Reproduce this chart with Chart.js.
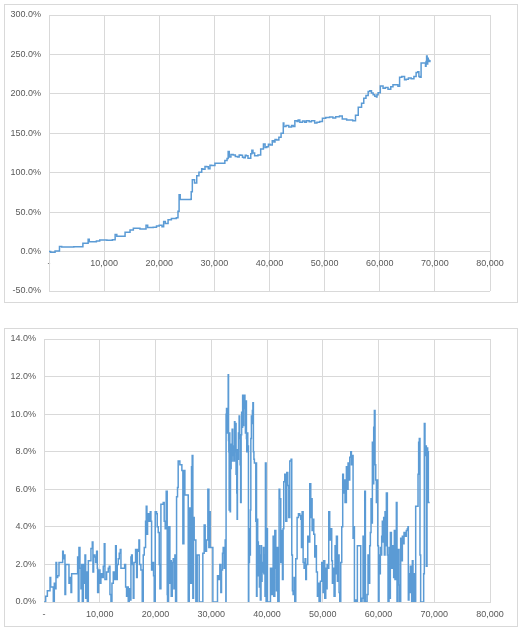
<!DOCTYPE html>
<html>
<head>
<meta charset="utf-8">
<script src="https://cdn.jsdelivr.net/npm/chart.js@4.4.1/dist/chart.umd.min.js"></script>
<style>
  html, body { margin: 0; padding: 0; background: #fff; }
  .box { position: absolute; left: 4px; width: 512px; height: 297px; border: 1px solid #d9d9d9; background: #fff; }
  #boxGrowth { top: 4px; }
  #boxDrawdown { top: 328px; }
  canvas { display: block; }
</style>
</head>
<body>
<div class="box" id="boxGrowth"><canvas id="chartGrowth" width="512" height="297"></canvas></div>
<div class="box" id="boxDrawdown"><canvas id="chartDrawdown" width="512" height="297"></canvas></div>

<script>
// ============================================================
// Cumulative return + drawdown, x in thousands of trades, y in %
// ============================================================

// x-axis ticks (thousands)
const xTicks = [0, 10, 20, 30, 40, 50, 60, 70, 80];
const growthTicks = [-50, 0, 50, 100, 150, 200, 250, 300];
const drawdownTicks = [0, 2, 4, 6, 8, 10, 12, 14];

// Top series: cumulative return (%), [x (thousands), value]
const growthPts = [
  [0,0],[0.3,-0.8],[1.1,0.8],[1.9,6.5],[2.3,5.8],[4.5,6.2],[6.1,6],[6.15,10.5],[7.1,15.5],[7.3,12.5],
  [8.6,13.5],[9.2,14.8],[10.5,14.5],[11.5,15],[12,21.5],[12.3,19.5],[13.8,24.5],[14.7,27.5],[15.3,29.5],
  [16.5,28.5],[17.6,33.5],[17.9,30.5],[18.9,31],[19.5,32.5],[20,33.5],[20.5,31.5],[20.8,38],[21.1,35.5],
  [21.6,40.5],[22.2,42],[23.1,43],[23.4,51],[23.6,72],[23.8,66],[25.7,66.5],[25.8,76],[26,91],[26.4,87],
  [26.8,96],[27.2,100.5],[27.7,105],[27.9,104.5],[28.3,108],[28.6,107.5],[28.9,105],[29.2,109.5],[29.5,109],
  [30.1,112],[31.6,112],[31.9,115.5],[32.3,118],[32.5,127],[32.7,120],[33.0,123],[33.4,122.5],[33.8,120.5],
  [34.2,120],[34.5,122.5],[34.8,122],[35.1,119.5],[35.3,119],[35.6,122],[35.8,121.5],[36.1,118.5],[36.6,124],
  [36.8,128.5],[37.0,125],[37.3,121.5],[37.9,122.5],[38.4,130],[38.9,136.5],[39.2,132],[39.5,133],[39.8,136],
  [40.1,135],[40.5,140.5],[40.8,139],[41.0,142],[41.3,141.5],[41.7,145],[42.1,150],[42.5,163],[42.6,158.5],
  [43.0,160],[43.5,158],[44.0,160],[44.3,158.5],[44.6,166],[45.0,165],[45.2,167],[45.5,164],[46.0,165.5],
  [46.4,164],[46.7,166],[47.2,164.5],[47.6,166],[48.2,163],[48.6,164],[49.1,165],[49.6,169],[50.2,170],
  [50.9,170.5],[51.5,169.5],[52.0,171],[52.7,172],[53.2,168],[54.0,167],[55.1,166],[55.6,173],[56.1,183],
  [56.7,188],[57.1,194.5],[57.5,198],[57.9,203],[58.2,204],[58.5,201],[58.8,199],[59.1,197],[59.4,196],
  [59.5,199],[59.7,201.5],[60.1,210],[60.6,207],[61.0,208],[61.5,206],[62.0,209],[62.4,211.5],[63.3,209.5],
  [63.6,221],[64.0,222],[64.5,218],[64.8,218.5],[65.2,220],[65.7,219],[66.2,222],[66.6,227],[66.9,228],
  [67.1,222],[67.3,221],[67.5,239],[68.1,239],[68.3,235],[68.4,241],[68.5,248],[68.6,238],[68.7,245],
  [68.8,243],[68.9,241],[69.1,243]
];

// Bottom series: drawdown (%), [x (thousands), value]
const drawdownPts = [
  [0,0],[0.3,0.3],[0.6,0.6],[1.08,1.3],[1.2,0.8],[1.67,0],[1.85,1.0],[2.09,0.7],[2.15,2.1],[2.27,1.3],
  [2.45,1.4],[2.69,2.1],[3.29,2.1],[3.35,2.7],[3.46,2.3],[3.64,2.5],[3.76,0.4],[3.88,2.0],[4.36,2.0],
  [4.48,1.0],[4.66,1.3],[4.84,0.5],[4.96,1.5],[5.85,1.5],[6.03,2.4],[6.15,0],[6.27,2.9],[6.45,1.8],
  [6.63,0.7],[6.75,2.0],[6.87,0],[7.05,2.0],[7.23,1.0],[7.35,2.5],[7.47,0.2],[7.59,1.6],[7.77,0],
  [7.95,2.2],[8.24,2.2],[8.42,2.85],[8.66,3.2],[8.78,1.6],[8.9,2.5],[9.14,2.4],[9.26,2.1],[9.44,2.7],
  [9.56,1.8],[9.62,0.5],[9.8,1.7],[10.04,1.0],[10.21,1.5],[10.45,1.3],[10.63,1.9],[10.81,3.1],[10.93,1.2],
  [11.23,1.6],[11.53,1.8],[11.71,1.9],[11.83,0.4],[12.01,0],[12.19,1.0],[12.43,1.6],[12.6,1.2],[12.84,3.0],
  [12.96,1.2],[13.14,2.0],[13.32,2.3],[13.5,2.6],[13.68,2.8],[13.8,1.8],[14.34,1.8],[14.46,2.0],[14.64,0.8],
  [14.81,0.3],[14.93,0.8],[15.11,0],[15.29,0.7],[15.47,0.1],[15.59,2.4],[15.71,2.5],[15.83,2.0],[16.01,0.2],
  [16.13,2.1],[16.43,2.8],[16.61,1.3],[16.73,2.8],[16.91,2.7],[17.03,3.3],[17.14,2.0],[17.38,1.7],[17.62,0],
  [17.8,2.5],[17.98,2.9],[18.22,4.3],[18.34,5.1],[18.46,3.6],[18.58,4.7],[18.82,4.3],[19.06,4.8],[19.18,4.3],
  [19.3,1.7],[19.41,2.1],[19.65,1.4],[19.77,0],[19.95,4.8],[20.19,4.7],[20.31,4.0],[20.49,3.7],[20.67,2.0],
  [20.79,0.7],[20.97,5.2],[21.39,5.3],[21.56,4.3],[21.74,3.9],[21.92,5.9],[22.1,0.4],[22.16,0],[22.34,4.0],
  [22.58,1.0],[22.7,2.2],[22.82,0.3],[23.0,2.1],[23.18,2.3],[23.3,0.7],[23.48,2.5],[23.6,0],[23.78,5.6],
  [23.95,6.1],[24.07,7.5],[24.37,7.3],[24.73,7.0],[24.91,3.1],[25.09,7.0],[25.27,5.7],[25.69,5.7],[25.87,0],
  [26.05,5.0],[26.28,1.0],[26.46,7.2],[26.58,7.8],[26.7,0.2],[26.82,4.5],[26.94,3.3],[27.24,0],[27.48,2.5],
  [27.84,0],[28.49,2.6],[28.73,4.1],[28.91,2.7],[29.15,3.3],[29.39,6.0],[29.57,2.9],[29.69,4.8],[29.81,2.9],
  [30.17,2.9],[30.29,0],[30.94,0],[31.12,1.4],[31.36,1.2],[31.54,2.0],[31.72,0.5],[31.84,1.7],[32.02,2.6],
  [32.14,2.9],[32.32,1.8],[32.5,3.3],[32.62,0],[32.66,10.0],[32.74,10.3],[32.86,9.0],[32.95,10.2],[33.04,12.1],
  [33.1,8.6],[33.15,8.0],[33.21,4.9],[33.27,9.0],[33.33,8.1],[33.39,4.8],[33.45,8.4],[33.51,7.1],[33.57,7.5],
  [33.75,9.2],[33.85,7.8],[33.93,8.3],[34.05,7.5],[34.17,9.6],[34.25,8.0],[34.35,9.5],[34.45,6.8],[34.52,8.1],
  [34.58,5.8],[34.64,4.4],[34.7,8.1],[34.76,7.6],[34.88,9.0],[35.0,9.9],[35.09,8.7],[35.18,7.3],[35.27,5.3],
  [35.36,8.9],[35.45,10.1],[35.54,9.3],[35.63,11.0],[35.71,10.0],[35.77,9.4],[35.83,10.8],[35.95,11.0],
  [36.04,10.3],[36.13,9.0],[36.22,10.7],[36.31,8.7],[36.37,8.0],[36.43,9.0],[36.55,8.3],[36.67,0],[36.73,3.9],
  [36.79,2.1],[36.85,3.7],[36.9,2.5],[37.02,4.9],[37.1,8.7],[37.2,9.9],[37.3,9.5],[37.38,10.2],[37.47,10.6],
  [37.56,8.0],[37.65,7.6],[37.74,7.4],[37.99,4.3],[38.04,7.4],[38.12,0.3],[38.21,4.4],[38.33,3.2],[38.45,1.4],
  [38.54,3.0],[38.63,0.8],[38.72,2.5],[38.81,0.1],[38.93,3.0],[39.02,1.1],[39.11,2.1],[39.22,1.6],[39.35,2.9],
  [39.44,1.5],[39.52,2.5],[39.64,0.3],[39.72,7.4],[39.84,0],[39.96,3.9],[40.08,0],[40.38,0],
  [40.62,1.8],[40.86,0.4],[41.1,3.5],[41.22,0.3],[41.4,3.8],[41.58,1.8],[41.7,0.6],[41.82,2.9],[41.94,0],
  [42.17,6.0],[42.29,5.5],[42.47,2.1],[42.59,3.8],[42.77,1.2],[42.89,3.9],[43.01,6.4],[43.19,6.8],[43.37,4.3],
  [43.55,6.9],[43.73,6.2],[43.91,4.5],[44.09,7.5],[44.32,7.6],[44.44,2.5],[44.56,0.6],[44.68,0.4],[44.86,1.3],
  [44.98,0],[45.16,2.3],[45.4,4.5],[45.64,4.7],[45.88,4.6],[46.06,4.4],[46.18,2.9],[46.3,4.8],[46.48,2.1],
  [46.65,1.8],[46.83,2.3],[46.95,1.2],[47.07,2.0],[47.31,3.5],[47.55,3.2],[47.67,6.3],[47.85,4.5],[47.97,5.5],
  [48.09,3.8],[48.27,4.4],[48.39,3.6],[48.57,2.4],[48.75,3.0],[48.86,1.6],[49.04,0.3],[49.16,1.0],[49.34,0],
  [49.58,1.1],[49.82,2.1],[50.06,0.5],[50.18,2.2],[50.36,0.2],[50.54,1.8],[50.66,0.7],[50.78,2.0],[50.96,1.8],
  [51.08,4.8],[51.25,3.3],[51.43,3.9],[51.61,2.2],[51.73,1.0],[51.91,1.8],[52.03,0.3],[52.21,3.0],[52.33,1.5],
  [52.45,3.5],[52.63,1.1],[52.81,2.5],[52.93,0.5],[53.05,0],[53.23,2.1],[53.41,4.0],[53.58,6.8],[53.7,5.8],
  [53.82,6.5],[54.0,5.3],[54.24,7.2],[54.42,6.0],[54.54,7.4],[54.72,6.5],[54.84,7.7],[55.02,8.0],[55.14,7.3],
  [55.32,7.8],[55.44,3.4],[55.56,4.0],[55.68,0],[55.8,0.1],[56.03,0],[56.21,3.0],[56.63,3.0],[56.81,0],
  [57.05,0.2],[57.23,3.5],[57.41,0],[57.53,5.9],[57.65,0],[57.95,0.4],[58.12,2.5],[58.3,1.0],[58.42,3.0],
  [58.54,3.7],[58.66,5.5],[58.78,4.2],[58.9,8.5],[59.02,6.3],[59.14,9.3],[59.26,10.2],[59.38,7.3],[59.5,6.5],
  [59.62,5.3],[59.74,6.5],[59.86,3.0],[59.98,0],[60.1,2.5],[60.22,1.5],[60.33,2.9],[60.45,2.5],[60.57,3.5],
  [60.69,4.3],[60.81,3.2],[60.93,4.5],[61.05,2.5],[61.17,4.8],[61.29,3.0],[61.41,5.8],[61.59,2.5],[61.71,0],
  [61.89,2.9],[62.01,0.2],[62.13,3.7],[62.31,1.8],[62.49,3.0],[62.6,2.0],[62.72,1.3],[62.84,3.8],[62.96,1.2],
  [63.08,2.5],[63.2,5.3],[63.32,0],[63.5,2.8],[63.68,0.9],[63.8,0],[63.98,3.4],[64.1,2.2],[64.28,3.5],
  [64.4,3.1],[64.58,3.7],[64.75,3.5],[64.99,3.8],[65.17,3.9],[65.29,4.0],[65.35,0.1],[65.47,1.5],[65.59,0.5],
  [65.71,1.9],[65.83,1.0],[65.95,0],[66.07,2.2],[66.19,0],[66.37,1.5],[66.49,0],[66.67,5.1],[66.97,5.1],
  [67.09,6.8],[67.2,8.5],[67.32,8.7],[67.44,2.5],[67.56,0],[67.98,0],[68.1,1.5],[68.22,9.5],[68.34,7.8],
  [68.46,8.3],[68.58,1.9],[68.7,8.2],[68.82,8.0],[68.94,5.3],[69.18,5.3]
];

// ── shared styling (Excel look) ─────────────────────────────
Chart.defaults.font.family = '"Liberation Sans", Arial, sans-serif';
Chart.defaults.font.size = 9;
Chart.defaults.color = '#595959';

const GRID = '#d9d9d9';
const LINE = '#5b9bd5';

const fmtX = v => v === 0 ? '-' : (v * 1000).toLocaleString('en-US');
const fmtPct = v => Number(v).toFixed(1) + '%';
const toXY = pts => pts.map(p => ({ x: p[0], y: p[1] }));
const fixedTicks = list => scale => { scale.ticks = list.map(v => ({ value: v })); };

function lineDataset(pts) {
  return {
    data: toXY(pts),
    borderColor: LINE,
    borderWidth: 1.5,
    pointRadius: 0,
    stepped: true,
    tension: 0,
    fill: false
  };
}

function xScale(extra) {
  return Object.assign({
    type: 'linear',
    min: xTicks[0], max: xTicks[xTicks.length - 1],
    afterBuildTicks: fixedTicks(xTicks),
    grid: { color: GRID, drawTicks: false },
    border: { color: GRID },
    ticks: { callback: fmtX, padding: 7, maxRotation: 0, autoSkip: false }
  }, extra);
}

function yScale(ticks, width) {
  return {
    type: 'linear',
    min: ticks[0], max: ticks[ticks.length - 1],
    afterBuildTicks: fixedTicks(ticks),
    // fixed axis width, and no label overhang so layout padding decides the plot box
    afterFit: s => { s.width = width; s.paddingTop = 0; s.paddingBottom = 0; },
    grid: { color: GRID, drawTicks: false },
    border: { color: GRID },
    ticks: { callback: fmtPct, padding: 8 }
  };
}

const commonOpts = {
  responsive: false,
  animation: false,
  events: [],
  plugins: { legend: { display: false }, tooltip: { enabled: false } }
};

// ── Top: cumulative return ──────────────────────────────────
new Chart(document.getElementById('chartGrowth'), {
  type: 'line',
  data: { datasets: [lineDataset(growthPts)] },
  options: Object.assign({}, commonOpts, {
    layout: { padding: { top: 10, right: 27, bottom: 11, left: 0 } },
    scales: {
      x: xScale({ position: { y: 0 } }),
      y: yScale(growthTicks, 44)
    }
  })
});

// ── Bottom: drawdown ────────────────────────────────────────
new Chart(document.getElementById('chartDrawdown'), {
  type: 'line',
  data: { datasets: [lineDataset(drawdownPts)] },
  options: Object.assign({}, commonOpts, {
    layout: { padding: { top: 10, right: 27, bottom: 0, left: 0 } },
    scales: {
      x: xScale({ position: 'bottom', afterFit: s => { s.height = 24; } }),
      y: yScale(drawdownTicks, 39)
    }
  })
});
</script>
</body>
</html>
